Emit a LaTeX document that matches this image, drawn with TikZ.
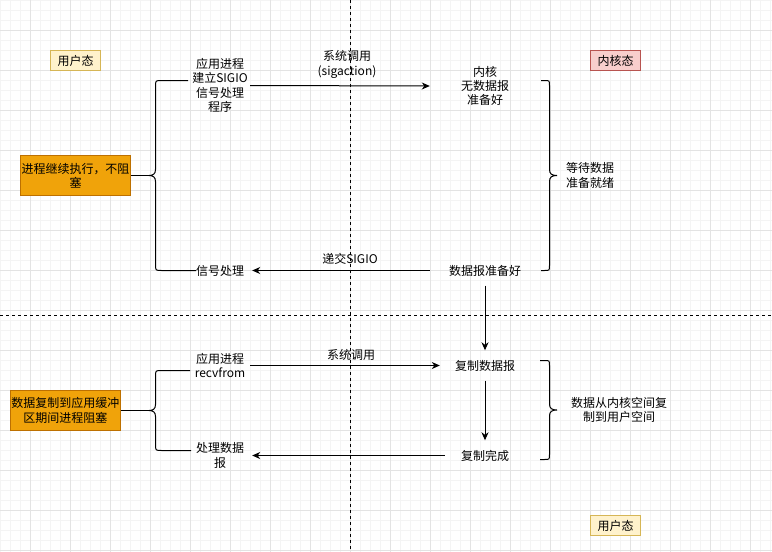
\documentclass[tikz,border=0pt]{standalone}
\usepackage{fontspec}
\newfontfamily\cjkf{Noto Sans CJK SC}
\usetikzlibrary{arrows.meta}
\definecolor{gridminor}{HTML}{F4F4F4}
\definecolor{gridmajor}{HTML}{E3E3E3}
\definecolor{yfill}{HTML}{FFF2CC}
\definecolor{ydraw}{HTML}{D6B656}
\definecolor{rfill}{HTML}{F8CECC}
\definecolor{rdraw}{HTML}{B85450}
\definecolor{ofill}{HTML}{F0A30A}
\definecolor{odraw}{HTML}{BD7000}
\begin{document}
\begin{tikzpicture}[x=1pt,y=-1pt,
  every node/.style={font=\cjkf\fontsize{12}{14.4}\selectfont, inner sep=0pt, align=center, text=black},
  tag/.style={draw=ydraw, fill=yfill, line width=1pt, minimum width=50pt, minimum height=20pt},
  ktag/.style={draw=rdraw, fill=rfill, line width=1pt, minimum width=50pt, minimum height=20pt},
  obox/.style={draw=odraw, fill=ofill, line width=1pt, minimum width=110pt, minimum height=40pt},
  arr/.style={line width=1pt, -{Stealth[length=8pt,width=7pt,inset=2.5pt]}},
  plain/.style={line width=1pt},
  sep/.style={line width=1pt, dash pattern=on 3pt off 3pt},
]
\useasboundingbox (0,0) rectangle (772,552);
\fill[white] (0,0) rectangle (772,552);
\foreach \x in {0.5,10.5,...,771} \draw[gridminor, line width=1pt] (\x,0) -- (\x,552);
\foreach \y in {0.5,10.5,...,551} \draw[gridminor, line width=1pt] (0,\y) -- (772,\y);
\foreach \x in {30.5,70.5,...,771} \draw[gridmajor, line width=1pt] (\x,0) -- (\x,552);
\foreach \y in {30.5,70.5,...,551} \draw[gridmajor, line width=1pt] (0,\y) -- (772,\y);

% separators
\coordinate (vt) at (350.5,0);
\coordinate (vb) at (350.5,552);
\coordinate (hl) at (0,315.5);
\coordinate (hr) at (772,315.5);
\draw[sep] (vt) -- (vb);
\draw[sep] (hl) -- (hr);

% tags
\node[tag] (us1) at (75.5,60.5) {用户态};
\node[ktag] (ks) at (615.5,60.5) {内核态};
\node[tag] (us2) at (615.5,525.5) {用户态};

% orange boxes
\node[obox] (b1) at (75.5,175.5) {进程继续执行，不阻\\塞};
\node[obox] (b2) at (65.5,410.5) {数据复制到应用缓冲\\区期间进程阻塞};

% text nodes
\node[minimum width=60pt, minimum height=60pt] (a1) at (220,85.5) {应用进程\\建立SIGIO\\信号处理\\程序};
\node[minimum width=110pt, minimum height=40pt] (k1) at (485,86) {内核\\无数据报\\准备好};
\node[minimum width=64pt, minimum height=20pt] (sh) at (220,270.5) {信号处理};
\node[minimum width=110pt, minimum height=30pt] (dr) at (485,270.5) {数据报准备好};
\node[minimum width=60pt, minimum height=30pt] (r1) at (220,365.5) {应用进程\\recvfrom};
\node[minimum width=90pt, minimum height=30pt] (cp) at (485,365.5) {复制数据报};
\node[minimum width=80pt, minimum height=30pt] (cd) at (485,455.5) {复制完成};
\node[minimum width=64pt, minimum height=30pt] (pd) at (220,455.5) {处理数据\\报};
\node (w1) at (590,175.5) {等待数据\\准备就绪};
\node (w2) at (619,410) {数据从内核空间复\\制到用户空间};

% arrows
\draw[arr] (a1.east) -- (k1.west);
\node (l1) at (347,64.5) {系统调用\\(sigaction)};
\draw[arr] (dr.west) -- (sh.east);
\node (l2) at (350,259) {递交SIGIO};
\draw[arr] (dr.south) -- (cp.north);
\draw[arr] (r1.east) -- (cp.west);
\node (l3) at (351,355) {系统调用};
\draw[arr] (cp.south) -- (cd.north);
\draw[arr] (cd.west) -- (pd.east);

% brace 1 (left, top section)
\coordinate (t1) at (149,175.5);
\draw[plain] (b1.east) -- (t1);
\draw[plain] (188,80.5) -- (161.5,80.5) .. controls (155.5,80.5) .. (155.5,86.5) -- (155.5,169.5)
  .. controls (155.5,174) and (153,175.5) .. (t1)
  .. controls (153,175.5) and (155.5,177) .. (155.5,181.5) -- (155.5,264.5)
  .. controls (155.5,270.5) .. (161.5,270.5) -- (196,270.5);

% brace 2 (right, top section)
\coordinate (t2) at (557,175.5);
\draw[plain] (541,80.5) -- (544.5,80.5) .. controls (549.5,80.5) .. (549.5,85.5) -- (549.5,169.5)
  .. controls (549.5,174) and (552,175.5) .. (t2)
  .. controls (552,175.5) and (549.5,177) .. (549.5,181.5) -- (549.5,265.5)
  .. controls (549.5,270.5) .. (544.5,270.5) -- (541,270.5);

% brace 3 (left, bottom section)
\coordinate (t3) at (149,410.5);
\draw[plain] (b2.east) -- (t3);
\draw[plain] (190,370.5) -- (161.5,370.5) .. controls (155.5,370.5) .. (155.5,376.5) -- (155.5,404.5)
  .. controls (155.5,409) and (153,410.5) .. (t3)
  .. controls (153,410.5) and (155.5,412) .. (155.5,416.5) -- (155.5,444.5)
  .. controls (155.5,450.5) .. (161.5,450.5) -- (191,450.5);

% brace 4 (right, bottom section)
\coordinate (t4) at (557,410);
\draw[plain] (540,360.5) -- (544.5,360.5) .. controls (549.5,360.5) .. (549.5,365.5) -- (549.5,404)
  .. controls (549.5,408.5) and (552,410) .. (t4)
  .. controls (552,410) and (549.5,411.5) .. (549.5,416) -- (549.5,454.5)
  .. controls (549.5,459.5) .. (544.5,459.5) -- (540,459.5);
\end{tikzpicture}
\end{document}
